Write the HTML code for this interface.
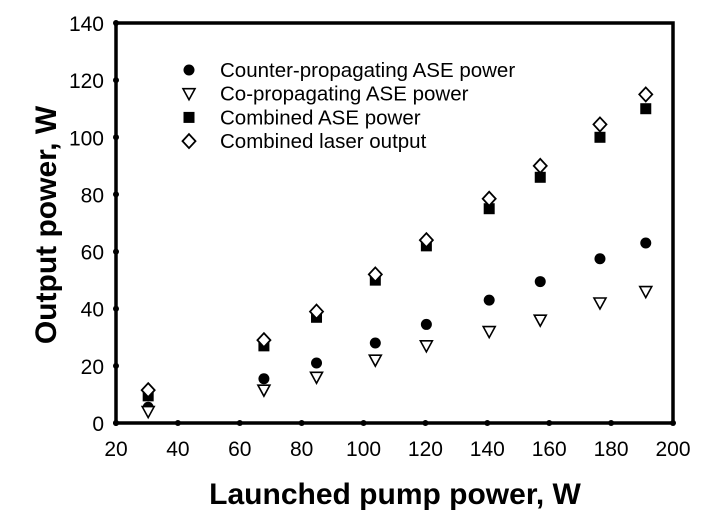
<!DOCTYPE html>
<html><head><meta charset="utf-8"><style>
body{margin:0;background:#fff;}
svg{display:block;font-family:"Liberation Sans",Arial,sans-serif;}
</style></head><body>
<svg id="chart" width="702" height="515" viewBox="0 0 702 515">
<g id="axes"></g><g id="marks"></g>
<text x="395" y="504" text-anchor="middle" font-size="30" font-weight="bold">Launched pump power, W</text>
<text transform="translate(56,225) rotate(-90)" text-anchor="middle" font-size="30" font-weight="bold">Output power, W</text>
</svg>
<script>
const pump=[30.4,67.8,84.8,103.8,120.3,140.6,157.1,176.4,191.2];
const counterASE=[5.5,15.5,21,28,34.5,43,49.5,57.5,63];
const coASE=[4,11.5,16,22,27,32,36,42,46];
const combinedASE=[9.5,27,37,50,62,75,86,100,110];
const laserOut=[11.5,29,39,52,64,78.5,90,104.5,115];
const xTicks=[20,40,60,80,100,120,140,160,180,200];
const yTicks=[0,20,40,60,80,100,120,140];
const legendLabels=["Counter-propagating ASE power","Co-propagating ASE power","Combined ASE power","Combined laser output"];
const NS="http://www.w3.org/2000/svg";
const L=116,R=673,T=23,B=423;
const sx=v=>L+(v-20)/180*(R-L);
const sy=v=>B-v/140*(B-T);
function mk(tag,attrs,parent){const e=document.createElementNS(NS,tag);for(const k in attrs)e.setAttribute(k,attrs[k]);parent.appendChild(e);return e;}
const axes=document.getElementById('axes'),marks=document.getElementById('marks');
const frame=mk('rect',{x:L,y:T,width:R-L,height:B-T,fill:'none',stroke:'#000','stroke-width':3.5},axes);


xTicks.forEach(t=>{
 const d=mk('circle',{cx:sx(t),cy:B,r:3,fill:'#000'},axes);
 
 
 const tx=mk('text',{x:sx(t),y:B+33,'text-anchor':'middle','font-size':21},axes);tx.textContent=t;
 
 
});
yTicks.forEach(t=>{
 const d=mk('circle',{cx:L,cy:sy(t),r:3,fill:'#000'},axes);
 
 
 const tx=mk('text',{x:L-12,y:sy(t)+8,'text-anchor':'end','font-size':21},axes);tx.textContent=t;
 
 
});
function marker(type,x,y,parent){
 let e;
 if(type==0)e=mk('circle',{cx:x,cy:y,r:5.5,fill:'#000'},parent);
 else if(type==1)e=mk('polygon',{points:`${x-6},${y-5} ${x+6},${y-5} ${x},${y+6}`,fill:'#fff',stroke:'#000','stroke-width':1.6},parent);
 else if(type==2)e=mk('rect',{x:x-5.5,y:y-5.5,width:11,height:11,fill:'#000'},parent);
 else e=mk('polygon',{points:`${x},${y-7} ${x+6.5},${y} ${x},${y+7} ${x-6.5},${y}`,fill:'#fff',stroke:'#000','stroke-width':1.8},parent);
 return e;
}
const series=[counterASE,coASE,combinedASE,laserOut];
const names=['counter-propagating-point','co-propagating-point','combined-ase-point','laser-output-point'];
[2,3,0,1].forEach(s=>{
 series[s].forEach((v,i)=>{
  const e=marker(s,sx(pump[i]),sy(v),marks);
  
  
 });
});
legendLabels.forEach((lab,i)=>{
 const y=70+i*23.7;
 const m=marker(i,189,y,marks);
 
 
 const t=mk('text',{x:220,y:y+7,'font-size':20.5},marks);t.textContent=lab;
 
 
});
</script>
</body></html>
